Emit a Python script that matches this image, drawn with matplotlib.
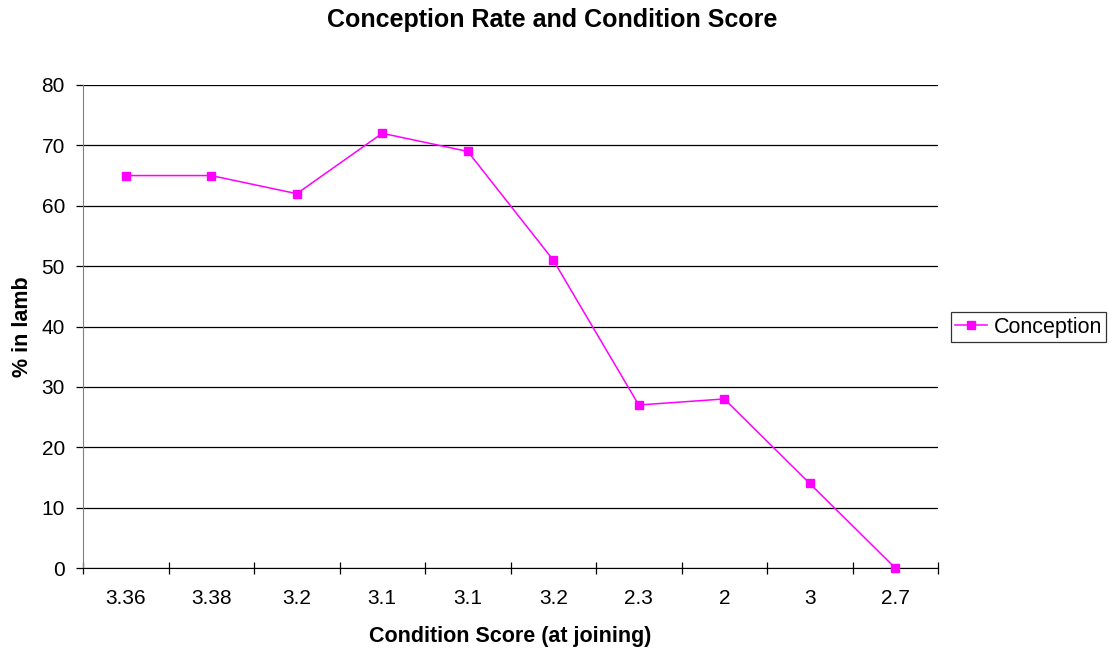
import matplotlib
matplotlib.use("Agg")
import matplotlib.pyplot as plt
import numpy as np

# condition score at joining for each mob, and share of ewes in lamb
scores = ["3.36", "3.38", "3.2", "3.1", "3.1", "3.2", "2.3", "2", "3", "2.7"]
in_lamb = [65, 65, 62, 72, 69, 51, 27, 28, 14, 0]

plt.rcParams['font.family'] = ['Liberation Sans', 'DejaVu Sans']

fig = plt.figure(figsize=(11.17, 6.52), dpi=100)
ax = fig.add_axes([83 / 1117, 1 - 568 / 652, (938 - 83) / 1117, (568 - 85) / 652])

x = np.arange(len(scores))
ax.plot(x, in_lamb, color="#ff00ff", lw=1.1, marker="s", ms=6,
        mec="#ff00ff", mfc="#ff00ff", label="Conception", clip_on=False, zorder=3)

ax.set_xlim(-0.5, len(scores) - 0.5)
ax.set_ylim(0, 80)
ax.set_yticks(np.arange(0, 81, 10))
ax.yaxis.grid(True, color="black", lw=0.9)
ax.set_axisbelow(True)

# category labels centred, tick marks on the boundaries
ax.set_xticks(x)
ax.set_xticklabels(scores)
ax.set_xticks(np.arange(-0.5, len(scores), 1), minor=True)
ax.tick_params(axis="x", which="major", length=0, pad=15, labelsize=15)
ax.tick_params(axis="x", which="minor", length=8.5, direction="inout", width=0.9)
ax.tick_params(axis="y", length=5, direction="out", width=0.9, labelsize=15, pad=8)

for side in ("top", "right"):
    ax.spines[side].set_visible(False)
ax.spines["left"].set_color("#808080")
ax.spines["bottom"].set_color("black")

ax.set_xlabel("Condition Score (at joining)", fontsize=15.5, fontweight="bold", labelpad=13)
ax.set_ylabel("% in lamb", fontsize=15.5, fontweight="bold", labelpad=6)
fig.text(0.494, 1 - 20 / 652, "Conception Rate and Condition Score", fontsize=18,
         fontweight="bold", ha="center", va="center")

leg = ax.legend(loc="center left", bbox_to_anchor=(951 / 1117, 1 - 327 / 652),
                bbox_transform=fig.transFigure, fontsize=15.5, frameon=True,
                fancybox=False, borderpad=0.2, handlelength=1.45, handletextpad=0.33,
                borderaxespad=0)
leg.get_frame().set_edgecolor("black")
leg.get_frame().set_linewidth(0.9)

fig.savefig("out.png", dpi=100)
